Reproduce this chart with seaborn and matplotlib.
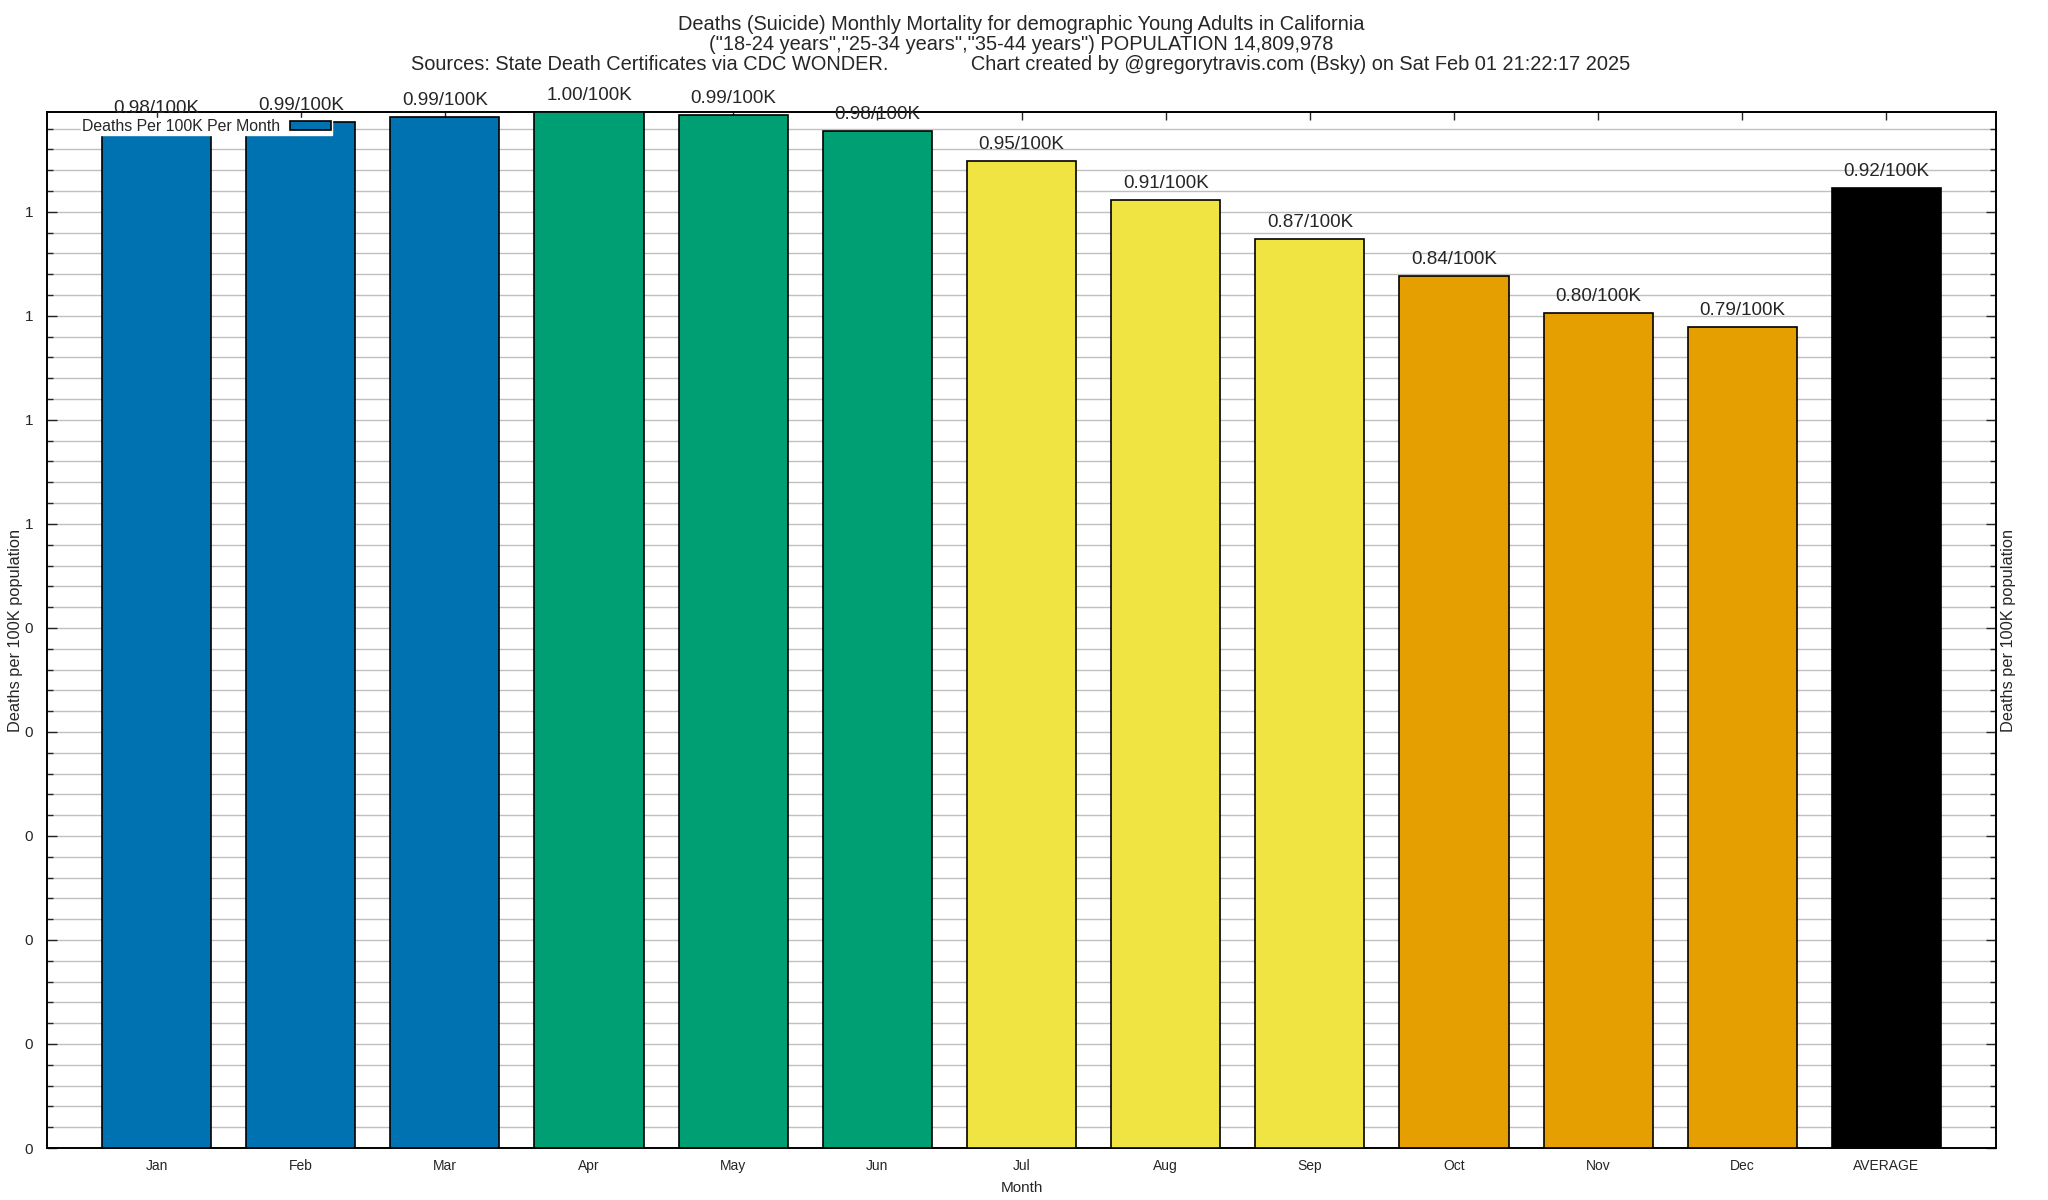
import numpy as np
import pandas as pd
import matplotlib
matplotlib.use("Agg")
import matplotlib.pyplot as plt
import seaborn as sns
from matplotlib.ticker import MultipleLocator, AutoMinorLocator, FuncFormatter
from matplotlib.patches import Patch

# values (deaths per 100K per month)
months = ['Jan', 'Feb', 'Mar', 'Apr', 'May', 'Jun', 'Jul', 'Aug', 'Sep', 'Oct', 'Nov', 'Dec', 'AVERAGE']
rates = [0.983, 0.986, 0.991, 0.996, 0.993, 0.978, 0.949, 0.911, 0.874, 0.838, 0.803, 0.789, 0.923]
bar_colors = ['#0072B2', '#0072B2', '#0072B2',
              '#009E73', '#009E73', '#009E73',
              '#F0E442', '#F0E442', '#F0E442',
              '#E69F00', '#E69F00', '#E69F00',
              '#000000']

title_lines = [
    'Deaths (Suicide) Monthly Mortality for demographic Young Adults in California',
    '("18-24 years","25-34 years","35-44 years") POPULATION 14,809,978',
    'Sources: State Death Certificates via CDC WONDER.               '
    'Chart created by @gregorytravis.com (Bsky) on Sat Feb 01 21:22:17 2025',
]

df = pd.DataFrame({'Month': months, 'Rate': rates})

sns.set_style('ticks')
plt.rcParams['font.family'] = ['Liberation Sans', 'DejaVu Sans']

fig = plt.figure(figsize=(20.48, 12), dpi=100)
ax = fig.add_axes([47 / 2048, 1 - 1148 / 1200, (1996 - 47) / 2048, (1148 - 112) / 1200])

sns.barplot(data=df, x='Month', y='Rate', hue='Month', palette=bar_colors,
            legend=False, width=0.757, edgecolor='black', linewidth=1.2,
            saturation=1, ax=ax, zorder=3)

ax.set_xlim(-0.76, len(months) - 0.24)
ax.set_ylim(0, max(rates))

# y axis: gnuplot-style "%.0f" labels on 0.1 steps
ax.yaxis.set_major_locator(MultipleLocator(0.1))
ax.yaxis.set_minor_locator(AutoMinorLocator(5))
ax.yaxis.set_major_formatter(FuncFormatter(lambda v, p: f'{round(v, 6):.0f}'))
ax.grid(axis='y', which='both', color='#c0c0c0', linewidth=1.0, zorder=0)
ax.set_axisbelow(True)

ax.tick_params(axis='y', which='major', direction='in', length=7, width=1,
               left=True, right=True, labelsize=11, pad=10)
ax.tick_params(axis='y', which='minor', direction='in', length=4, width=1,
               left=True, right=True)
ax.tick_params(axis='x', which='major', direction='in', length=6, width=1,
               top=True, bottom=True, labelsize=10, pad=8)

for s in ax.spines.values():
    s.set_visible(True)
    s.set_linewidth(1.4)
    s.set_color('black')

ax.set_xlabel('Month', fontsize=11, labelpad=6)
ax.set_ylabel('')
fig.text(16 / 2048, 1 - 630 / 1200, 'Deaths per 100K population', rotation=90,
         ha='center', va='center', fontsize=11.8)
fig.text(2009 / 2048, 1 - 630 / 1200, 'Deaths per 100K population', rotation=90,
         ha='center', va='center', fontsize=11.8)

# value labels above bars
for i, v in enumerate(rates):
    ax.annotate(f'{v:.2f}/100K', xy=(i, v), xytext=(0, 12),
                textcoords='offset points', ha='center', va='center',
                fontsize=13.6, zorder=5, annotation_clip=False)

# key
handle = Patch(facecolor='#0072B2', edgecolor='black', linewidth=1.2)
leg = ax.legend(handles=[handle], labels=['Deaths Per 100K Per Month'],
                loc='upper right', bbox_to_anchor=(0.146, 0.994),
                markerfirst=False, fontsize=11.4, frameon=True,
                handlelength=2.6, handleheight=0.5, handletextpad=0.6,
                borderpad=0.05, borderaxespad=0, fancybox=False)
leg.get_frame().set_facecolor('white')
leg.get_frame().set_edgecolor('white')
leg.get_frame().set_alpha(1)
leg.set_zorder(6)

for k, line in enumerate(title_lines):
    fig.text(0.4985, 1 - (25 + 20 * k) / 1200, line, ha='center', va='center', fontsize=14.4)

fig.savefig('out.png', dpi=100, facecolor='white')
